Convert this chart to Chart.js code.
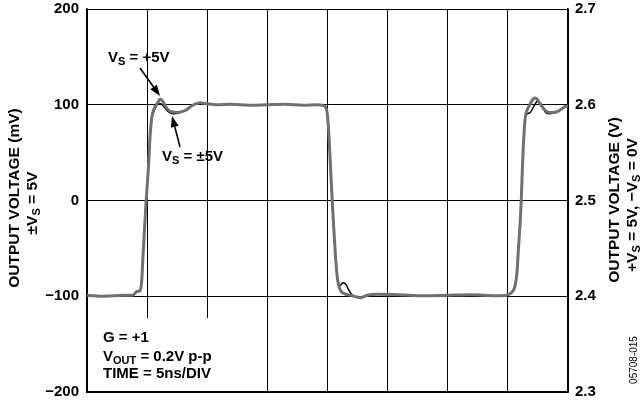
<!DOCTYPE html>
<html>
<head>
<meta charset="utf-8">
<script src="https://cdn.jsdelivr.net/npm/chart.js@4/dist/chart.umd.min.js"></script>
<style>
html,body{margin:0;padding:0;background:#fff;}
#wrap{width:640px;height:404px;position:relative;}
</style>
</head>
<body>
<div id="wrap"><canvas id="c" width="640" height="404"></canvas></div>
<script>
// ---- Data (time in ns, output in mV) ----
const timeGray = [0,1.5,3,3.8,4.15,4.42,4.56,4.64,4.78,4.92,5.11,5.25,5.39,5.55,5.72,5.92,6.08,6.25,6.5,6.92,7.47,8.17,8.72,9.42,9.97,10.8,12,13.5,15,16.5,18,19.2,19.56,19.83,19.97,20.11,20.25,20.39,20.53,20.67,20.81,20.94,21.08,21.36,21.92,22.75,23.31,24.14,26,28,30,32,34,34.42,35.1,35.39,35.58,35.75,35.89,36.03,36.11,36.19,36.28,36.36,36.44,36.58,36.78,37.0,37.19,37.42,37.69,38.03,38.44,38.86,39.28,39.69,40];
const voltGray = [-99,-100,-99,-99,-95,-94,-82,-62,-30,0,35,68,87,95,99,103,106,104.5,99,93,92,94,99,102,101,100,100.5,99.5,100,100.5,99.5,100,99.5,97.5,92,70,35,0,-31,-59,-80,-89,-94,-97,-99,-101.5,-99,-98,-98.5,-99.5,-99,-98.5,-99.5,-99.5,-98,-95,-90,-76,-48,-21,0,28,56,73,86,94,99,104,107,106,101,95,92,92,94,97.5,99];

const timeBlack = [0,1.5,3,3.8,4.15,4.42,4.56,4.64,4.78,4.92,5.11,5.25,5.39,5.67,5.85,6.1,6.4,6.64,7.0,7.3,7.8,8.17,8.72,9.42,9.97,10.8,12,13.5,15,16.5,18,19.2,19.56,19.83,19.97,20.11,20.25,20.39,20.53,20.67,20.81,20.94,21.1,21.3,21.55,21.75,21.95,22.2,22.75,23.31,24.14,26,28,30,32,34,34.42,35.1,35.39,35.58,35.75,35.89,36.03,36.11,36.19,36.28,36.36,36.44,36.64,36.86,37.19,37.47,37.75,38.08,38.44,38.86,39.28,39.69,40];
const voltBlack = [-99,-100,-99,-99,-95,-94,-82,-62,-30,0,35,68,85,96,100,101,98,94,91,90.5,92,94,99,102,101,100,100.5,99.5,100,100.5,99.5,100,99.5,97.5,92,70,35,0,-31,-59,-80,-89,-88,-86,-88,-93,-97,-100,-101,-99,-98,-98.5,-99.5,-99,-98.5,-99.5,-99.5,-98,-95,-90,-76,-48,-21,0,28,56,73,86,90.6,92,99,104,101,93,90.5,91.5,94,97.5,99];

const leftTicks = [-200,-100,0,100,200];
const rightTicks = [2.3,2.4,2.5,2.6,2.7];
const timeDivs = [0,5,10,15,20,25,30,35,40];

const toPts = (xs, ys) => xs.map((x, i) => ({x: x, y: ys[i]}));

const FONT = '"Liberation Sans", Arial, Helvetica, sans-serif';

function drawRich(ctx, parts, x, y, align, size) {
  const subSize = Math.round(size * 0.74);
  let w = 0;
  const widths = parts.map(p => {
    ctx.font = 'bold ' + (p[1] ? subSize : size) + 'px ' + FONT;
    const m = ctx.measureText(p[0]).width;
    w += m;
    return m;
  });
  let cx = align === 'center' ? x - w / 2 : x;
  ctx.textBaseline = 'middle';
  ctx.textAlign = 'left';
  parts.forEach((p, i) => {
    ctx.font = 'bold ' + (p[1] ? subSize : size) + 'px ' + FONT;
    ctx.fillText(p[0], cx, p[1] ? y + 4 : y);
    cx += widths[i];
  });
}

function drawRotated(ctx, parts, x, y, size) {
  ctx.save();
  ctx.translate(x, y);
  ctx.rotate(-Math.PI / 2);
  drawRich(ctx, parts, 0, 0, 'center', size);
  ctx.restore();
}

function arrow(ctx, x1, y1, x2, y2) {
  const ang = Math.atan2(y2 - y1, x2 - x1);
  const L = 11, W = 4;
  const bx = x2 - L * Math.cos(ang), by = y2 - L * Math.sin(ang);
  ctx.beginPath();
  ctx.moveTo(x1, y1);
  ctx.lineTo(bx, by);
  ctx.lineWidth = 1.6;
  ctx.strokeStyle = '#000';
  ctx.stroke();
  ctx.beginPath();
  ctx.moveTo(x2, y2);
  ctx.lineTo(bx + W * Math.sin(ang), by - W * Math.cos(ang));
  ctx.lineTo(bx - W * Math.sin(ang), by + W * Math.cos(ang));
  ctx.closePath();
  ctx.fillStyle = '#000';
  ctx.fill();
}

const decor = {
  id: 'decor',
  beforeDatasetsDraw(chart) {
    const ctx = chart.ctx;
    const a = chart.chartArea;
    ctx.save();
    ctx.fillStyle = '#fff';
    ctx.fillRect(a.left + 1, 318, 127, a.bottom - 318 - 1);
    ctx.restore();
  },
  afterDraw(chart) {
    const ctx = chart.ctx;
    ctx.save();
    ctx.fillStyle = '#000';
    // annotations
    drawRich(ctx, [['V',0],['S',1],[' = +5V',0]], 108, 58, 'left', 15);
    drawRich(ctx, [['V',0],['S',1],[' = \u00b15V',0]], 162, 157, 'left', 15);
    arrow(ctx, 140, 68, 160, 96);
    arrow(ctx, 180, 147, 172, 116);
    // condition box
    drawRich(ctx, [['G = +1',0]], 103, 338, 'left', 15);
    drawRich(ctx, [['V',0],['OUT',1],[' = 0.2V p-p',0]], 103, 357, 'left', 15);
    drawRich(ctx, [['TIME = 5ns/DIV',0]], 103, 374, 'left', 15);
    // axis titles
    drawRotated(ctx, [['OUTPUT VOLTAGE (mV)',0]], 15, 198, 15.5);
    drawRotated(ctx, [['\u00b1V',0],['S',1],[' = 5V',0]], 33, 203, 15.5);
    drawRotated(ctx, [['OUTPUT VOLTAGE (V)',0]], 615, 200, 15.5);
    drawRotated(ctx, [['+V',0],['S',1],[' = 5V, \u2212V',0],['S',1],[' = 0V',0]], 633, 205, 15.5);
    // figure id
    ctx.save();
    ctx.translate(634, 360);
    ctx.rotate(-Math.PI / 2);
    ctx.font = '10px ' + FONT;
    ctx.textAlign = 'center';
    ctx.textBaseline = 'middle';
    ctx.fillText('05708-015', 0, 0);
    ctx.restore();
    ctx.restore();
  }
};

function noPad(s) { s.paddingTop = 0; s.paddingBottom = 0; s.paddingLeft = 0; s.paddingRight = 0; }

new Chart(document.getElementById('c'), {
  type: 'line',
  data: {
    datasets: [
      {
        label: 'VS = +5V',
        data: toPts(timeGray, voltGray),
        borderColor: '#707070',
        borderWidth: 3,
        pointRadius: 0,
        cubicInterpolationMode: 'monotone',
        yAxisID: 'y'
      },
      {
        label: 'VS = ±5V',
        data: toPts(timeBlack, voltBlack),
        borderColor: '#000',
        borderWidth: 1.5,
        pointRadius: 0,
        cubicInterpolationMode: 'monotone',
        yAxisID: 'y'
      }
    ]
  },
  options: {
    responsive: false,
    animation: false,
    events: [],
    layout: { padding: { top: 9, left: 0, right: 0, bottom: 0 } },
    plugins: { legend: { display: false }, tooltip: { enabled: false } },
    scales: {
      x: {
        type: 'linear',
        min: 0, max: 40,
        afterBuildTicks: s => { s.ticks = timeDivs.map(v => ({value: v})); },
        ticks: { display: false },
        grid: { color: '#000', lineWidth: 1, drawTicks: false },
        border: { color: '#000', width: 1.5 },
        afterFit: s => { s.height = 12; noPad(s); }
      },
      y: {
        position: 'left',
        min: -200, max: 200,
        afterBuildTicks: s => { s.ticks = leftTicks.map(v => ({value: v})); },
        ticks: {
          color: '#000', padding: 8,
          font: { family: FONT, size: 15, weight: 'bold' },
          callback: v => String(v).replace('-', '\u2212')
        },
        grid: { color: '#000', lineWidth: 1, drawTicks: false },
        border: { color: '#000', width: 1.5 },
        afterFit: s => { s.width = 87; noPad(s); }
      },
      y2: {
        position: 'right',
        min: 2.3, max: 2.7,
        afterBuildTicks: s => { s.ticks = rightTicks.map(v => ({value: v})); },
        ticks: {
          color: '#000', padding: 7,
          font: { family: FONT, size: 15, weight: 'bold' },
          callback: v => Number(v).toFixed(1)
        },
        grid: { drawOnChartArea: false, drawTicks: false },
        border: { color: '#000', width: 1.5 },
        afterFit: s => { s.width = 72; noPad(s); }
      }
    }
  },
  plugins: [decor]
});
</script>
</body>
</html>
